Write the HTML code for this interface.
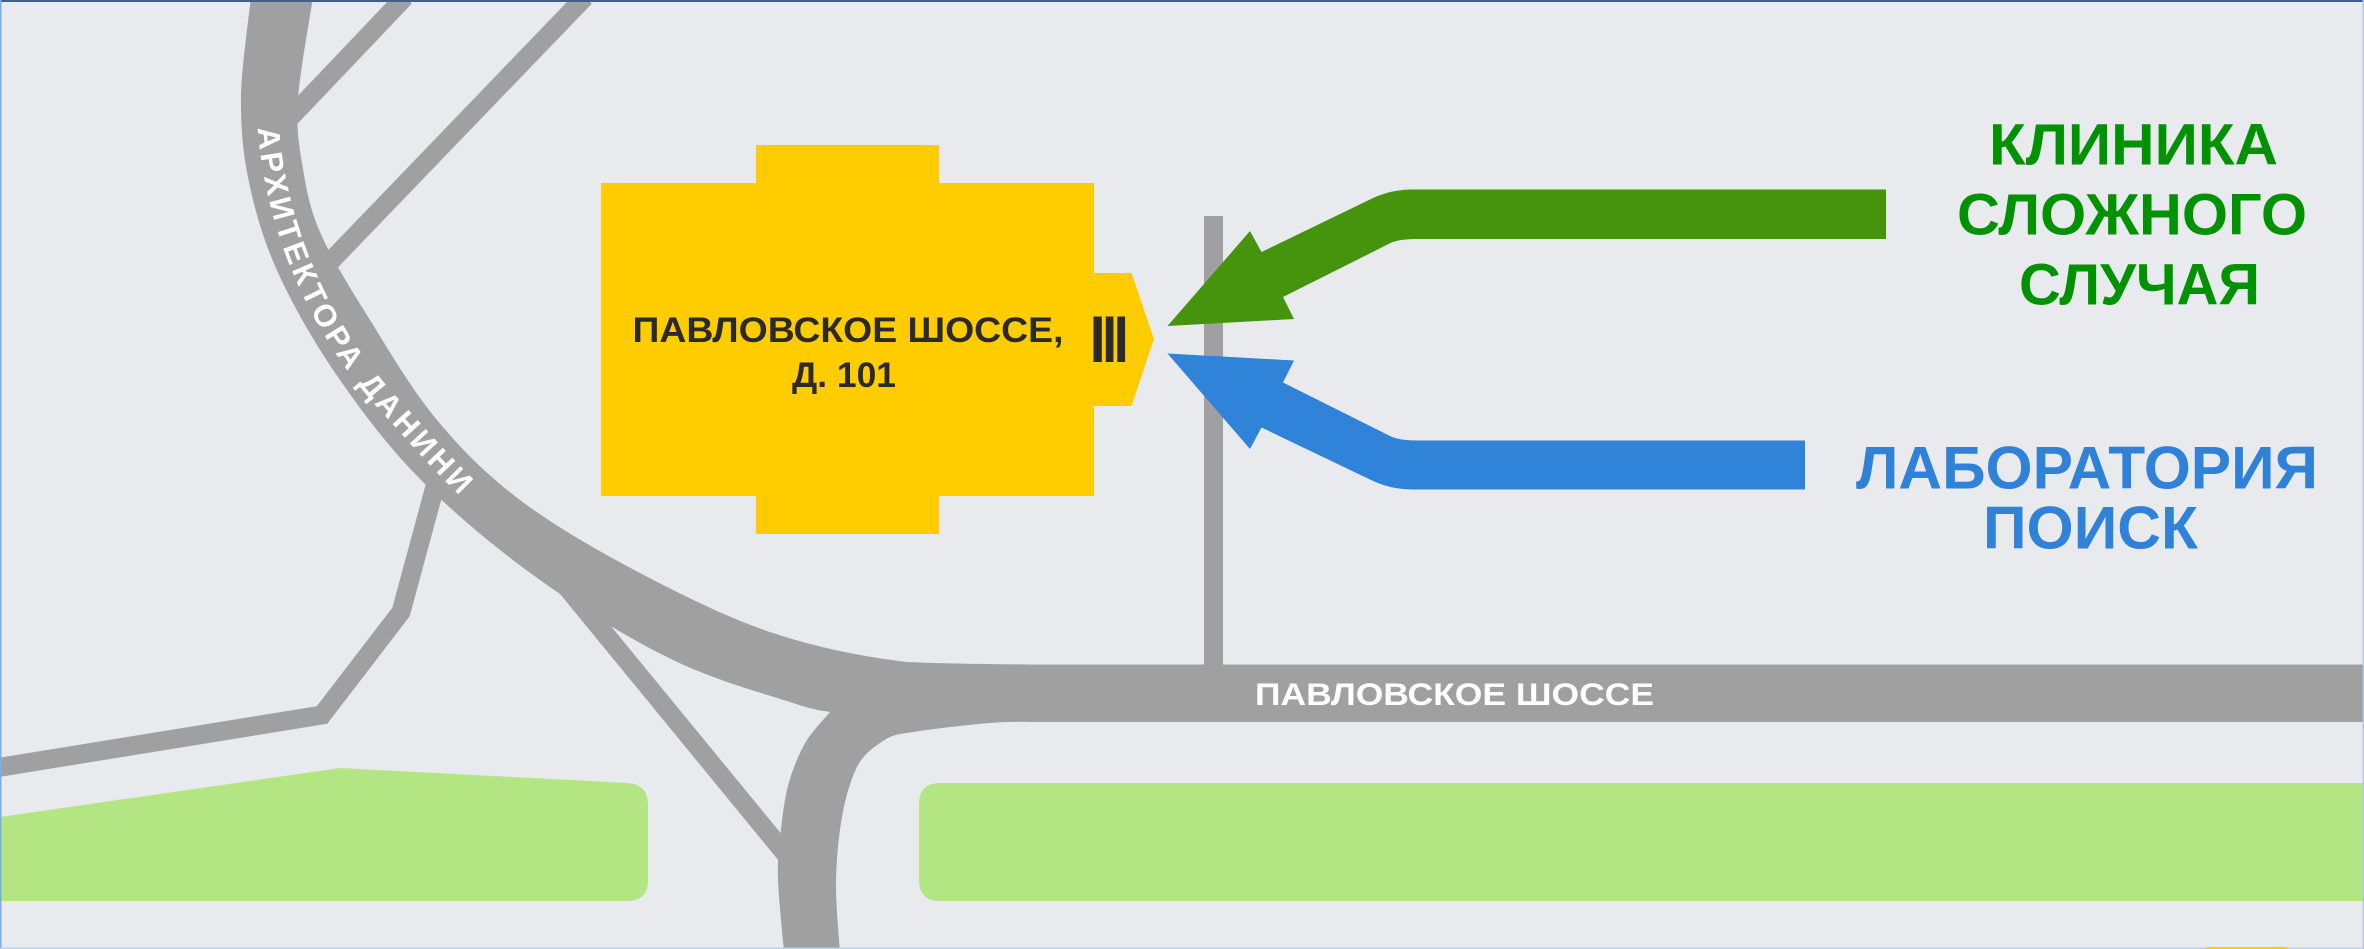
<!DOCTYPE html>
<html><head><meta charset="utf-8"><style>
html,body{margin:0;padding:0;background:#e8eaee;overflow:hidden}
svg{display:block}
text{font-family:"Liberation Sans","DejaVu Sans",sans-serif}
</style></head><body>
<svg width="2364" height="949" viewBox="0 0 2364 949" xmlns="http://www.w3.org/2000/svg">
<rect x="0" y="0" width="2364" height="949" fill="#e8eaee"/>
<!-- green areas -->
<path d="M0,817 L340,768 L627,783 Q648,784 648,805 L648,880 Q648,901 627,901 L0,901 Z" fill="#b3e682"/>
<path d="M2364,783 L940,783 Q919,783 919,804 L919,880 Q919,901 940,901 L2364,901 Z" fill="#b3e682"/>
<!-- thin roads -->
<g stroke="#9fa09f" stroke-width="19" fill="none" stroke-linejoin="miter">
<path d="M405,-3 L288,120"/>
<path d="M585,-3 L328,264"/>
<path d="M440,468 L401,612 L322,715 L-5,768"/>
<path d="M560,579 L797,868"/>
</g>
<!-- vertical service road -->
<rect x="1204" y="216" width="19" height="452" fill="#9fa09f"/>
<!-- main roads -->
<path fill="#9fa09f" d="M251,-3
C249.3,14.2 241.2,68.3 241,100
C240.8,131.7 243.5,157.5 250,187
C256.5,216.5 265,244.8 280,277
C295,309.2 316.2,345.8 340,380
C363.8,414.2 389.7,448.7 423,482
C456.3,515.3 498.3,550.3 540,580
C581.7,609.7 630.8,639.5 673,660
C715.2,680.5 766.8,694.3 793,703
C819.2,711.7 823.8,710.5 830,712
C826.2,716.7 813.2,730.3 807,740
C800.8,749.7 796.7,760 793,770
C789.3,780 787.2,788.3 785,800
C782.8,811.7 781.2,826.7 780,840
C778.8,853.3 777.3,861.3 778,880
C778.7,898.7 783,940 784,952
L840,952
C839.3,940.5 835.7,905.5 836,883
C836.3,860.5 838.5,836.3 842,817
C845.5,797.7 850.7,779.3 857,767
C863.3,754.7 871.7,748.7 880,743
C888.3,737.3 893,734.5 907,733
C925.3,729.7 967.8,724.8 990,723
C1012.2,721.2 1031.7,722.2 1040,722
L2366,722 L2366,664.5 L1040,664.5
C1017.8,664.5 951.5,664 907,662
C862.5,656.75 817.5,647.8 773,633
C728.5,618.2 682.2,595.2 640,573
C597.8,550.8 553.8,525.5 520,500
C486.2,474.5 462,450 437,420
C412,390 389.5,351.3 370,320
C350.5,288.7 331.3,258.2 320,232
C308.7,205.8 305.7,185 302,163
C298.3,141 296.2,127.7 298,100
C299.8,72.3 310.5,14.2 313,-3 Z"/>
<!-- road labels -->
<defs>
<path id="arch" d="M257,100 C256,200 298,320 378,408 C408,441 438,476 478,513"/>
</defs>
<text font-size="31" font-weight="bold" fill="#ffffff"><textPath href="#arch" startOffset="28" textLength="430" lengthAdjust="spacing">АРХИТЕКТОРА ДАНИНИ</textPath></text>
<text x="1255" y="705" font-size="31.5" font-weight="bold" fill="#ffffff" textLength="399" lengthAdjust="spacingAndGlyphs">ПАВЛОВСКОЕ ШОССЕ</text>
<!-- building -->
<path fill="#ffcc00" d="M601,183 L756,183 L756,145 L939,145 L939,183 L1094,183 L1094,273 L1131.5,273 L1154,339 L1131.5,406 L1094,406 L1094,496 L939,496 L939,534 L756,534 L756,496 L601,496 Z"/>
<text x="632.5" y="342" font-size="35" font-weight="bold" fill="#2b2a28" textLength="431" lengthAdjust="spacingAndGlyphs">ПАВЛОВСКОЕ ШОССЕ,</text>
<text x="792" y="387" font-size="35" font-weight="bold" fill="#2b2a28" textLength="104" lengthAdjust="spacingAndGlyphs">Д. 101</text>
<g fill="#2b2a28">
<rect x="1093.5" y="316.5" width="8.3" height="45.5"/>
<rect x="1105.8" y="316.5" width="7.6" height="45.5"/>
<rect x="1117.3" y="316.5" width="7.8" height="45.5"/>
</g>
<!-- arrows -->
<path fill="#46940e" d="M1886,189.5 L1412,189.5 Q1390.6,189.5 1371,199 L1261.5,252 L1250,231 L1167.5,326 L1294,319 L1283,297 L1390,243.3 Q1398.5,239 1417,239 L1886,239 Z"/>
<path fill="#2f83d8" d="M1805,440.5 L1417,440.5 Q1398.5,440.5 1390,436 L1283,382.5 L1294,360.5 L1167.5,353.5 L1250,449 L1261.5,427.5 L1371,480 Q1390.6,489.5 1412,489.5 L1805,489.5 Z"/>
<!-- labels -->
<g font-weight="bold" fill="#009200">
<text x="1989" y="164.5" font-size="58" textLength="289" lengthAdjust="spacingAndGlyphs">КЛИНИКА</text>
<text x="1957" y="234.5" font-size="58" textLength="350" lengthAdjust="spacingAndGlyphs">СЛОЖНОГО</text>
<text x="2019" y="304.5" font-size="58" textLength="241" lengthAdjust="spacingAndGlyphs">СЛУЧАЯ</text>
</g>
<g font-weight="bold" fill="#2f82d8">
<text x="1856" y="488.5" font-size="60" textLength="462" lengthAdjust="spacingAndGlyphs">ЛАБОРАТОРИЯ</text>
<text x="1983" y="548.5" font-size="60" textLength="215" lengthAdjust="spacingAndGlyphs">ПОИСК</text>
</g>
<!-- frame -->
<rect x="0" y="0" width="2364" height="2" fill="#3f5f8f"/>
<rect x="0" y="0" width="1.5" height="949" fill="#7aaee6"/>
<rect x="2362.5" y="0" width="1.5" height="949" fill="#a8c8e8"/>
<rect x="0" y="947.5" width="2364" height="1.5" fill="#b8d0e8"/>
<rect x="2207" y="947" width="80" height="2" fill="#ffcc00"/>
</svg>
</body></html>
